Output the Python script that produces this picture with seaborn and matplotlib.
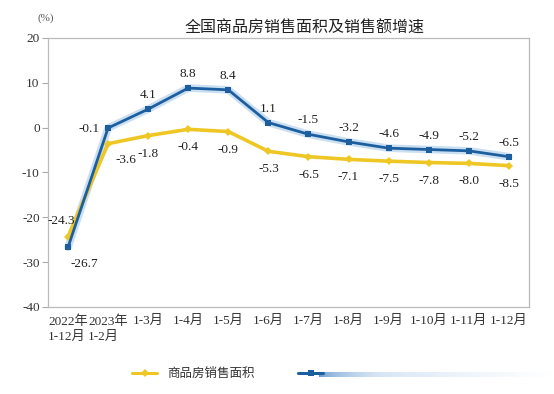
import numpy as np
import pandas as pd
import matplotlib
matplotlib.use("Agg")
import matplotlib.pyplot as plt
import seaborn as sns
from matplotlib.lines import Line2D
from matplotlib.colors import LinearSegmentedColormap

periods = ["2022年\n1-12月", "2023年\n1-2月", "1-3月", "1-4月", "1-5月", "1-6月",
           "1-7月", "1-8月", "1-9月", "1-10月", "1-11月", "1-12月"]
area_growth = [-24.3, -3.6, -1.8, -0.4, -0.9, -5.3, -6.5, -7.1, -7.5, -7.8, -8.0, -8.5]
sales_growth = [-26.7, -0.1, 4.1, 8.8, 8.4, 1.1, -1.5, -3.2, -4.6, -4.9, -5.2, -6.5]
area_name = "商品房销售面积"
sales_name = "商品房销售额"

sns.set_theme(style="white")
plt.rcParams['font.family'] = ['Liberation Serif', 'Noto Sans CJK SC', 'DejaVu Sans']

yellow = "#EEC725"
blue = "#1D5F9E"

df = pd.DataFrame({"pos": np.arange(len(periods)),
                   "area": area_growth, "sales": sales_growth})

fig = plt.figure(figsize=(5.54, 3.94), dpi=100)
ax = fig.add_axes([0.0866, 0.221, 0.868, 0.683])

# soft halo under the blue line
ax.plot(df["pos"], df["sales"], color="#A9CBEB", lw=5.5, alpha=0.6, zorder=1,
        solid_capstyle="round")
sns.lineplot(data=df, x="pos", y="area", ax=ax, color=yellow, lw=2.6,
             marker="D", markersize=4, markeredgewidth=0, zorder=2)
sns.lineplot(data=df, x="pos", y="sales", ax=ax, color=blue, lw=2.0,
             marker="s", markersize=5, markeredgewidth=0, zorder=3)

ax.set_xlim(-0.5, len(periods) - 0.5)
ax.set_ylim(-40, 20)
ax.set_yticks(range(-40, 21, 10))
ax.set_yticklabels([str(v) for v in range(-40, 21, 10)], fontsize=9.5, color="#333333")
ax.set_xticks(df["pos"])
ax.set_xticklabels(periods, fontsize=9.5, color="#333333", linespacing=1.3)
for lab in ax.get_xticklabels():
    lab.set_multialignment("left")
ax.set_xticks(np.arange(0.5, len(periods) - 1, 1), minor=True)
ax.tick_params(axis="x", which="major", length=0, pad=6)
ax.tick_params(axis="x", which="minor", length=4, direction="in", color="#AAAAAA", width=0.8)
ax.tick_params(axis="y", length=4, direction="out", color="#AAAAAA", width=0.8, pad=2, left=True)
ax.set_xlabel("")
ax.set_ylabel("")
for s in ax.spines.values():
    s.set_color("#BBBBBB")
    s.set_linewidth(0.9)

# data labels (offsets in points)
area_off = {0: (-5, 11), 1: (13, -12)}
sales_off = {0: (12, -12), 1: (-14, -1)}
for i, (a, s) in enumerate(zip(area_growth, sales_growth)):
    dx, dy = area_off.get(i, (0, -13))
    ax.annotate(f"{a:.1f}", (i, a), xytext=(dx, dy), textcoords="offset points",
                ha="center", va="center", fontsize=9.5, color="#222222")
    dx, dy = sales_off.get(i, (0, 10))
    ax.annotate(f"{s:.1f}", (i, s), xytext=(dx, dy), textcoords="offset points",
                ha="center", va="center", fontsize=9.5, color="#222222")

fig.text(0.55, 0.928, "全国商品房销售面积及销售额增速", ha="center", va="center",
         fontsize=11.5, color="#222222")
fig.text(0.082, 0.955, "(%)", ha="center", va="center", fontsize=8, color="#555555")

handles = [Line2D([], [], color=yellow, lw=2.2, marker="D", markersize=4, markeredgewidth=0),
           Line2D([], [], color=blue, lw=2.2, marker="s", markersize=4, markeredgewidth=0)]
fig.legend(handles, [area_name, ""], loc="center", bbox_to_anchor=(0.42, 0.05), ncol=2,
           frameon=False, fontsize=9, handlelength=2.0, columnspacing=3.5,
           labelcolor="#333333")

# fading tail of the second legend entry
gax = fig.add_axes([0.575, 0.044, 0.42, 0.012])
grad = np.linspace(0, 1, 256).reshape(1, -1) ** 0.5
fade = LinearSegmentedColormap.from_list("fade", ["#5F93CC", "#D6E5F5", "#FFFFFF"])
gax.imshow(grad, aspect="auto", cmap=fade)
gax.axis("off")

fig.savefig("out.png", dpi=100, facecolor="white")
